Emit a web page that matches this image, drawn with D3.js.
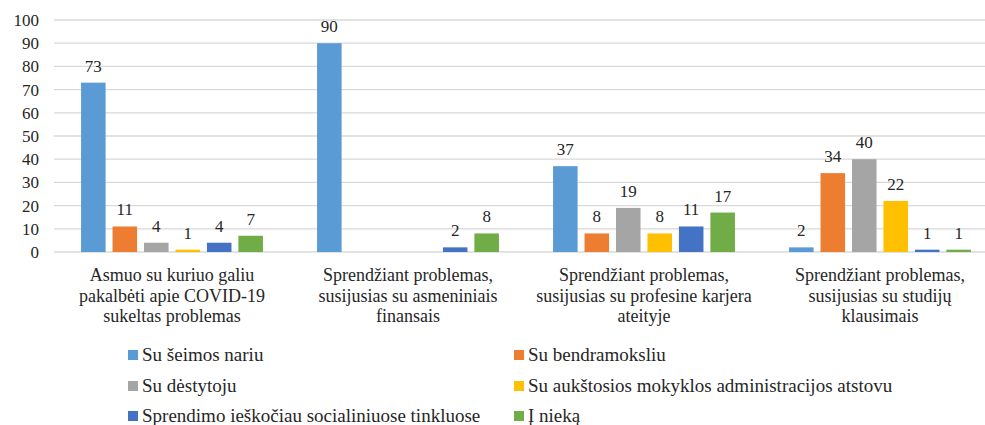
<!DOCTYPE html>
<html>
<head>
<meta charset="utf-8">
<script src="https://cdn.jsdelivr.net/npm/d3@7"></script>
<style>
  html, body { margin: 0; padding: 0; background: #fff; }
  svg { display: block; }
</style>
</head>
<body>
<svg id="chart" width="985" height="425"></svg>
<script>
// Categories (each split into display lines)
const categories = [
  ["Asmuo su kuriuo galiu", "pakalbėti apie COVID-19", "sukeltas problemas"],
  ["Sprendžiant problemas,", "susijusias su asmeniniais", "finansais"],
  ["Sprendžiant problemas,", "susijusias su profesine karjera", "ateityje"],
  ["Sprendžiant problemas,", "susijusias su studijų", "klausimais"]
];

const seriesNames = [
  "Su šeimos nariu",
  "Su bendramoksliu",
  "Su dėstytoju",
  "Su aukštosios mokyklos administracijos atstovu",
  "Sprendimo ieškočiau socialiniuose tinkluose",
  "Į nieką"
];

const seriesColors = ["#5B9BD5", "#ED7D31", "#A5A5A5", "#FFC000", "#4472C4", "#70AD47"];

// One array per series, one value per category (null = no answer)
const seimosNariu      = [73, 90, 37, 2];
const bendramoksliu    = [11, null, 8, 34];
const destytoju        = [4, null, 19, 40];
const administracija   = [1, null, 8, 22];
const socialiniaiTinkl = [4, 2, 11, 1];
const iNieka           = [7, 8, 17, 1];

const seriesValues = [seimosNariu, bendramoksliu, destytoju, administracija, socialiniaiTinkl, iNieka];

const yTicks = [0, 10, 20, 30, 40, 50, 60, 70, 80, 90, 100];

const FONT = "'Liberation Serif', 'DejaVu Serif', serif";
const textColor = "#262626";

const svg = d3.select("#chart");

const plot = { left: 54, right: 998, top: 20, bottom: 252 };
const catKeys = categories.map((c, i) => i);

const x0 = d3.scaleBand().domain(catKeys).range([plot.left, plot.right])
  .paddingInner(0.2).paddingOuter(0.1);
const x1 = d3.scaleBand().domain(d3.range(seriesNames.length)).range([0, x0.bandwidth()])
  .paddingInner(0.22).paddingOuter(0.11);
const y = d3.scaleLinear().domain([0, 100]).range([plot.bottom, plot.top]);

// Gridlines
svg.append("g")
  .selectAll("line").data(yTicks).join("line")
  .attr("x1", plot.left).attr("x2", plot.right)
  .attr("y1", d => y(d)).attr("y2", d => y(d))
  .attr("stroke", "#D9D9D9").attr("stroke-width", 1.3);

// Y axis labels
const yAxis = d3.axisLeft(y).tickValues(yTicks).tickSize(0).tickPadding(0);
const yg = svg.append("g").attr("transform", `translate(${plot.left - 15},0)`).call(yAxis);
yg.select(".domain").remove();
yg.selectAll("text").style("font-family", FONT).style("font-size", "17px").attr("fill", textColor);

// Bars
const rows = [];
seriesValues.forEach((vals, s) => vals.forEach((v, c) => {
  if (v !== null) rows.push({ s, c, v });
}));

svg.append("g").selectAll("rect").data(rows).join("rect")
  .attr("x", d => x0(d.c) + x1(d.s))
  .attr("y", d => y(d.v))
  .attr("width", x1.bandwidth())
  .attr("height", d => y(0) - y(d.v))
  .attr("fill", d => seriesColors[d.s]);

// Value labels
svg.append("g").selectAll("text").data(rows).join("text")
  .attr("x", d => x0(d.c) + x1(d.s) + x1.bandwidth() / 2)
  .attr("y", d => y(d.v) - 11)
  .attr("text-anchor", "middle")
  .style("font-family", FONT).style("font-size", "17px").attr("fill", textColor)
  .text(d => d.v);

// Category labels
const catG = svg.append("g").selectAll("text").data(catKeys).join("text")
  .attr("text-anchor", "middle")
  .style("font-family", FONT).style("font-size", "18px").attr("fill", textColor)
  .attr("transform", d => `translate(${x0(d) + x0.bandwidth() / 2},281)`);
catG.selectAll("tspan").data(d => categories[d]).join("tspan")
  .attr("x", 0).attr("dy", (d, i) => i === 0 ? 0 : 20.5)
  .text(d => d);

// Legend (two columns, three rows)
const legCols = [128, 514];
const legRows = [355, 386, 416];
const leg = svg.append("g").selectAll("g").data(seriesNames).join("g")
  .attr("transform", (d, i) => `translate(${legCols[i % 2]},${legRows[Math.floor(i / 2)]})`);
leg.append("rect").attr("x", 0).attr("y", -5).attr("width", 10).attr("height", 10)
  .attr("fill", (d, i) => seriesColors[i]);
leg.append("text").attr("x", 14).attr("y", 6)
  .style("font-family", FONT).style("font-size", "19px").attr("fill", textColor)
  .text(d => d);
</script>
</body>
</html>
